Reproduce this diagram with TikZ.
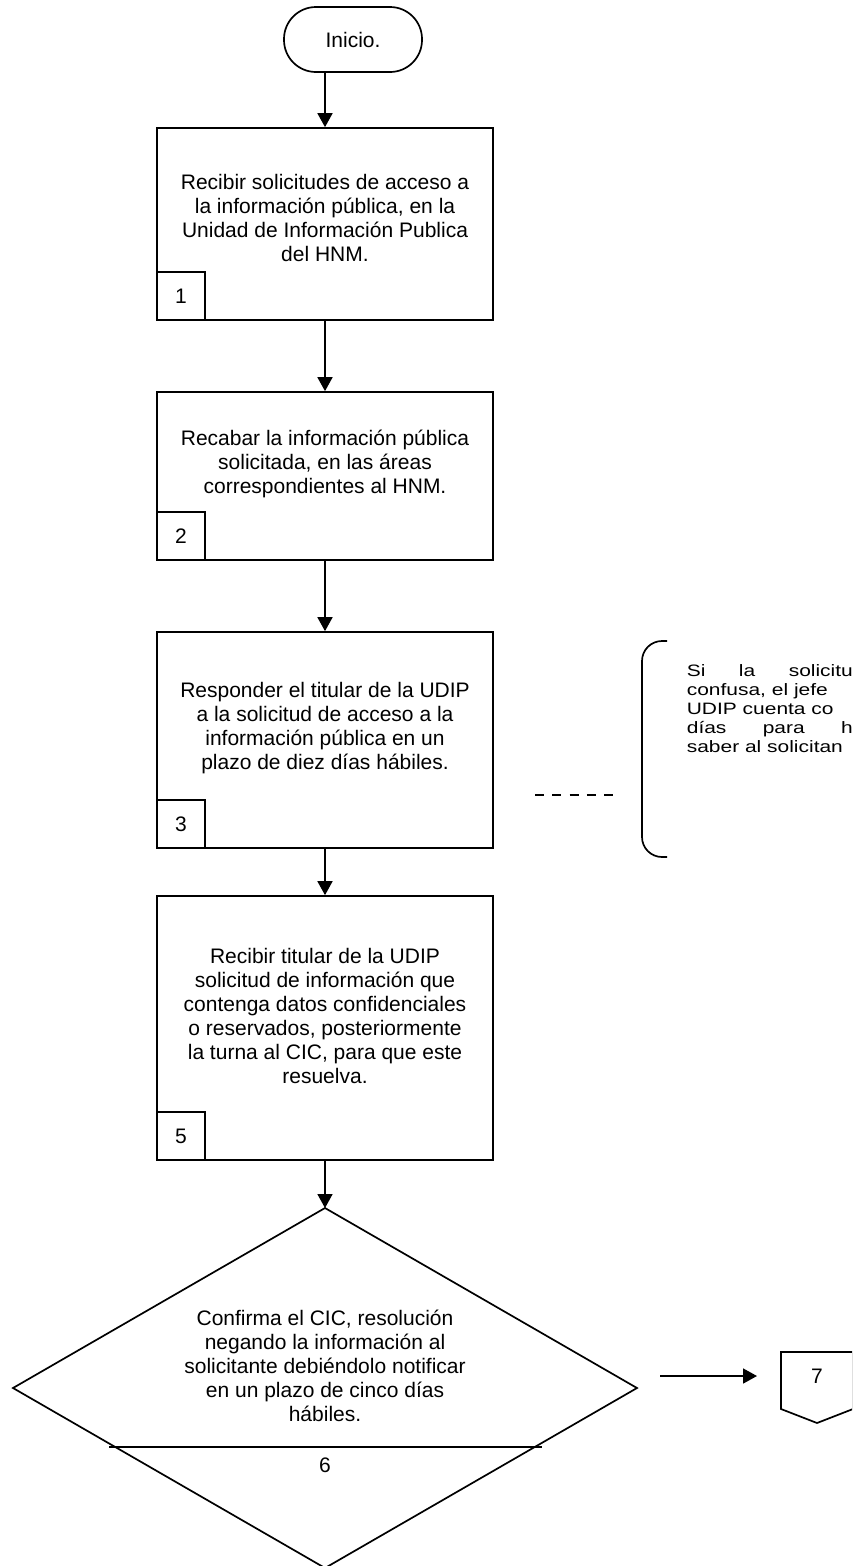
\documentclass[tikz,border=0pt]{standalone}
\usepackage{fontspec}
\setmainfont{Liberation Sans}
\newfontfamily\notefont[FakeStretch=1.27]{Liberation Sans}
\usetikzlibrary{arrows.meta}
\begin{document}
\begin{tikzpicture}[x=1pt,y=-1pt,line width=1.7pt,
  font=\fontsize{21}{24}\selectfont,
  procbox/.style={draw,minimum width=336pt,inner sep=0pt},
  numbox/.style={draw,minimum size=48pt,inner sep=0pt,anchor=south west},
  txt/.style={align=center,inner sep=0pt},
  arr/.style={-{Triangle[length=14pt,width=15pt]}},
  note/.style={anchor=base west,inner sep=0pt,font=\notefont\fontsize{16.5}{19}\selectfont}]
\useasboundingbox (0,0) rectangle (852,1566);
\clip (0,0) rectangle (852,1566);
% start
\node[draw,rounded corners=32pt,minimum width=138pt,minimum height=65pt] (start) at (353,39.5) {Inicio.};
% box 1
\node[procbox,minimum height=192pt] (b1) at (325,224) {};
\node[txt] (t1) at (325,218) {Recibir solicitudes de acceso a\\la información pública, en la\\Unidad de Información Publica\\del HNM.};
\node[numbox] (n1) at (b1.south west) {1};
% box 2
\node[procbox,minimum height=168pt] (b2) at (325,476) {};
\node[txt] (t2) at (325,464) {Recabar la información pública\\solicitada, en las áreas\\correspondientes al HNM.};
\node[numbox] (n2) at (b2.south west) {2};
% box 3
\node[procbox,minimum height=216pt] (b3) at (325,740) {};
\node[txt] (t3) at (325,728) {Responder el titular de la UDIP\\a la solicitud de acceso a la\\información pública en un\\plazo de diez días hábiles.};
\node[numbox] (n3) at (b3.south west) {3};
% box 5
\node[procbox,minimum height=264pt] (b5) at (325,1028) {};
\node[txt] (t5) at (325,1016) {Recibir titular de la UDIP\\solicitud de información que\\contenga datos confidenciales\\o reservados, posteriormente\\la turna al CIC, para que este\\resuelva.};
\node[numbox] (n5) at (b5.south west) {5};
% diamond
\coordinate (dt) at (325,1208);
\coordinate (dr) at (637,1388);
\coordinate (db) at (325,1568);
\coordinate (dl) at (13,1388);
\draw (dt) -- (dr) -- (db) -- (dl) -- cycle;
\node[txt] (t6) at (325,1366) {Confirma el CIC, resolución\\negando la información al\\solicitante debiéndolo notificar\\en un plazo de cinco días\\hábiles.};
\coordinate (hl) at (109,1447);
\coordinate (hr) at (542,1447);
\draw (hl) -- (hr);
\node[txt] (n6) at (325,1465) {6};
% off-page connector 7
\coordinate (c7) at (781,1376);
\draw (781,1352) -- (853,1352) -- (853,1409) -- (817,1423) -- (781,1409) -- cycle;
\node[txt] (n7) at (817,1376) {7};
\coordinate (a7) at (660,1376);
% connectors
\draw[arr] (b1.north |- start.south) -- (b1.north);
\draw[arr] (b1.south) -- (b2.north);
\draw[arr] (b2.south) -- (b3.north);
\draw[arr] (b3.south) -- (b5.north);
\draw[arr] (b5.south) -- (dt);
\draw[arr] (a7) -- ([xshift=-24pt]c7);
% note
\coordinate (ds) at (535,795);
\coordinate (de) at (617,795);
\draw[dash pattern=on 9pt off 8.3pt] (ds) -- (de);
\draw[rounded corners=20pt] (667,641) -- (642,641) -- (642,857) -- (667,857);
\node[note] (m1) at (686,676) {\makebox[166pt][s]{Si la solicitu}};
\node[note] (m2) at (686,695) {confusa, el jefe};
\node[note] (m3) at (686,714) {UDIP cuenta co};
\node[note] (m4) at (686,733) {\makebox[166pt][s]{días para h}};
\node[note] (m5) at (686,752) {saber al solicitan};
\end{tikzpicture}
\end{document}
